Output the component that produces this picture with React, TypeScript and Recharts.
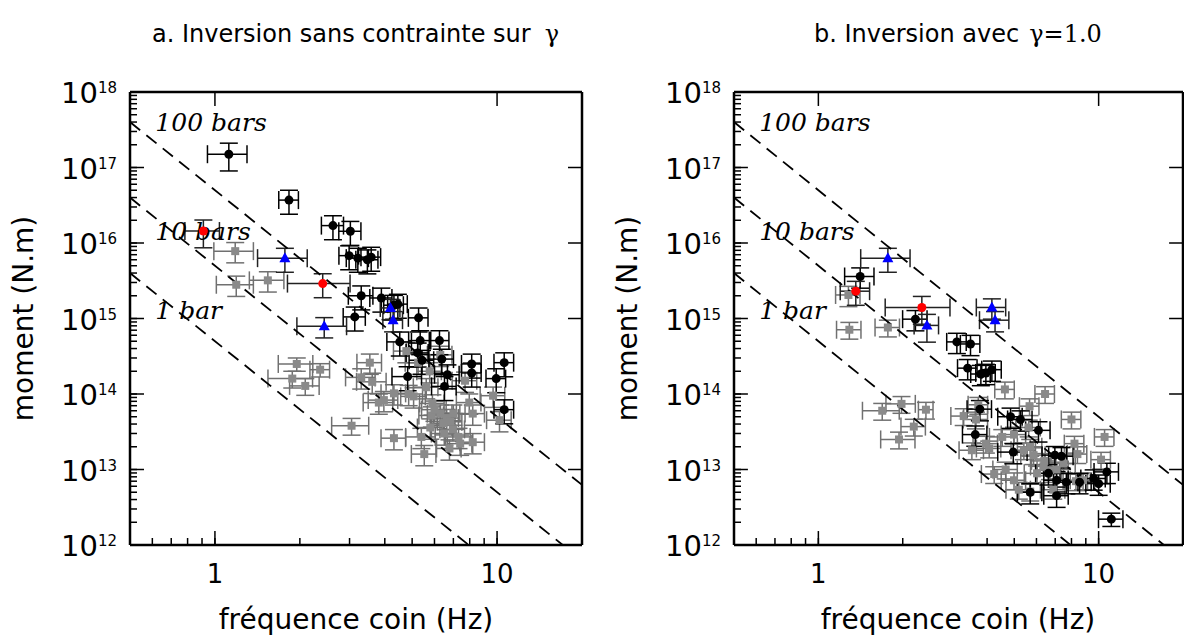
import React from 'react';
import { ScatterChart, Scatter, XAxis, YAxis, ErrorBar, ReferenceLine } from 'recharts';

// [corner frequency (Hz), moment (N.m), relative error on f, relative error on moment]
type Row = [number, number, number, number];

// ---------- Panel a : inversion sans contrainte sur gamma ----------
const aBlack: Row[] = [
  [1.12, 1.5e17, 0.16, 0.4], [1.83, 3.7e16, 0.08, 0.35], [2.62, 1.7e16, 0.09, 0.35],
  [3.02, 1.43e16, 0.09, 0.35], [2.99, 6.8e15, 0.08, 0.35], [3.21, 6.3e15, 0.09, 0.35],
  [3.47, 6.0e15, 0.09, 0.35], [3.58, 6.5e15, 0.08, 0.35], [3.3, 2.0e15, 0.1, 0.35],
  [3.89, 1.87e15, 0.09, 0.35], [4.31, 1.5e15, 0.08, 0.35], [4.45, 1.55e15, 0.08, 0.35],
  [3.13, 1.05e15, 0.09, 0.35], [5.27, 1.02e15, 0.08, 0.35], [4.52, 4.9e14, 0.1, 0.35],
  [5.34, 5.1e14, 0.09, 0.35], [6.25, 5.1e14, 0.08, 0.35], [5.23, 3.5e14, 0.09, 0.35],
  [6.37, 2.9e14, 0.1, 0.35], [5.42, 2.8e14, 0.1, 0.35], [8.13, 2.5e14, 0.08, 0.35],
  [10.6, 2.6e14, 0.08, 0.35], [8.13, 1.9e14, 0.08, 0.35], [6.67, 1.8e14, 0.1, 0.35],
  [4.82, 1.7e14, 0.12, 0.35], [9.93, 1.6e14, 0.08, 0.35], [6.51, 1.26e14, 0.1, 0.35],
  [10.6, 6.2e13, 0.08, 0.35],
];
const aRed: Row[] = [[0.91, 1.44e16, 0.14, 0.4], [2.41, 2.9e15, 0.25, 0.35]];
const aBlue: Row[] = [
  [1.77, 6.3e15, 0.2, 0.35], [2.44, 7.9e14, 0.2, 0.3], [4.19, 1.38e15, 0.08, 0.3], [4.28, 9.5e14, 0.08, 0.3],
];
const aGray: Row[] = [
  [1.18, 7.8e15, 0.16, 0.3], [1.19, 2.8e15, 0.15, 0.3], [1.54, 3.2e15, 0.14, 0.3],
  [1.95, 2.5e14, 0.14, 0.2], [2.36, 2.1e14, 0.08, 0.2], [1.88, 1.6e14, 0.18, 0.25],
  [2.09, 1.28e14, 0.12, 0.25], [3.05, 3.8e13, 0.15, 0.25], [4.77, 3.7e14, 0.1, 0.3],
  [6.29, 3.3e14, 0.1, 0.3], [5.25, 2.6e14, 0.1, 0.3], [3.54, 2.6e14, 0.1, 0.3],
  [5.77, 2.0e14, 0.1, 0.3], [3.3, 1.66e14, 0.12, 0.3], [3.61, 1.45e14, 0.12, 0.3],
  [7.7, 1.5e14, 0.1, 0.3], [5.61, 1.23e14, 0.1, 0.3], [4.31, 1.02e14, 0.1, 0.3],
  [4.86, 1.0e14, 0.12, 0.3], [5.06, 9.3e13, 0.1, 0.3], [3.81, 7.7e13, 0.12, 0.3],
  [3.97, 8.3e13, 0.12, 0.3], [9.68, 9.5e13, 0.1, 0.3], [7.97, 7.7e13, 0.1, 0.3],
  [8.2, 5.5e13, 0.1, 0.3], [10.2, 4.5e13, 0.1, 0.3], [5.87, 5.2e13, 0.1, 0.3],
  [6.29, 5.5e13, 0.1, 0.3], [6.63, 4.8e13, 0.1, 0.3], [7.0, 5.5e13, 0.1, 0.3],
  [6.82, 4.3e13, 0.1, 0.3], [6.45, 4.1e13, 0.1, 0.3], [4.31, 2.6e13, 0.1, 0.3],
  [5.39, 2.7e13, 0.12, 0.3], [6.97, 3.4e13, 0.1, 0.3], [6.78, 1.9e13, 0.1, 0.3],
  [5.52, 1.6e13, 0.1, 0.3], [7.4, 2.2e13, 0.1, 0.3], [8.2, 2.3e13, 0.1, 0.3],
  [6.0, 6.2e13, 0.1, 0.3], [6.5, 3.0e13, 0.1, 0.3], [5.8, 3.6e13, 0.1, 0.3],
  [7.3, 2.7e13, 0.1, 0.3], [5.9, 7.5e13, 0.1, 0.3],
];

// ---------- Panel b : inversion avec gamma = 1.0 ----------
const bBlack: Row[] = [
  [1.41, 3.6e15, 0.12, 0.3], [2.22, 9.8e14, 0.1, 0.3], [3.12, 4.9e14, 0.08, 0.3],
  [3.49, 4.6e14, 0.08, 0.3], [3.41, 2.2e14, 0.08, 0.3], [3.8, 1.84e14, 0.08, 0.3],
  [3.96, 1.9e14, 0.08, 0.3], [4.16, 2.1e14, 0.08, 0.3], [3.77, 6.3e13, 0.1, 0.3],
  [4.85, 5.0e13, 0.1, 0.3], [5.26, 4.6e13, 0.1, 0.3], [3.63, 2.9e13, 0.1, 0.3],
  [6.1, 3.3e13, 0.1, 0.3], [4.96, 1.7e13, 0.12, 0.3], [6.98, 1.55e13, 0.1, 0.3],
  [7.37, 1.5e13, 0.1, 0.3], [10.7, 9.3e12, 0.1, 0.3], [9.6, 7.6e12, 0.1, 0.3],
  [10.0, 6.5e12, 0.1, 0.3], [6.62, 8.9e12, 0.1, 0.3], [7.08, 7.2e12, 0.1, 0.3],
  [7.67, 6.8e12, 0.1, 0.3], [8.55, 6.8e12, 0.1, 0.3], [5.7, 5.0e12, 0.1, 0.3],
  [7.08, 4.5e12, 0.1, 0.3], [11.1, 2.2e12, 0.1, 0.2],
];
const bRed: Row[] = [[1.36, 2.3e15, 0.12, 0.35], [2.34, 1.4e15, 0.26, 0.4]];
const bBlue: Row[] = [
  [1.77, 6.3e15, 0.2, 0.35], [2.44, 8.1e14, 0.1, 0.4], [4.16, 1.4e15, 0.12, 0.3], [4.27, 9.5e14, 0.12, 0.3],
];
const bGray: Row[] = [
  [1.28, 2.05e15, 0.1, 0.3], [1.29, 7.1e14, 0.1, 0.25], [1.77, 7.6e14, 0.1, 0.25],
  [1.69, 6.0e13, 0.15, 0.25], [1.98, 7.4e13, 0.12, 0.25], [2.42, 6.2e13, 0.06, 0.25],
  [2.19, 3.7e13, 0.1, 0.25], [1.94, 2.5e13, 0.14, 0.25], [4.63, 1.15e14, 0.08, 0.25],
  [6.44, 1.0e14, 0.08, 0.25], [3.72, 7.2e13, 0.08, 0.25], [3.3, 5.1e13, 0.1, 0.25],
  [3.65, 4.6e13, 0.1, 0.25], [5.67, 6.9e13, 0.08, 0.25], [8.0, 4.6e13, 0.08, 0.25],
  [5.63, 3.6e13, 0.1, 0.25], [4.53, 2.7e13, 0.1, 0.25], [4.99, 2.9e13, 0.1, 0.25],
  [10.5, 2.7e13, 0.08, 0.25], [3.96, 2.2e13, 0.1, 0.25], [4.07, 1.9e13, 0.1, 0.25],
  [3.53, 1.8e13, 0.1, 0.25], [8.2, 2.2e13, 0.08, 0.25], [8.4, 1.6e13, 0.08, 0.25],
  [5.86, 1.55e13, 0.1, 0.25], [5.41, 1.8e13, 0.1, 0.25], [5.7, 2.0e13, 0.1, 0.25],
  [10.2, 1.35e13, 0.08, 0.25], [7.08, 1.0e13, 0.1, 0.25], [6.7, 9.8e12, 0.1, 0.25],
  [6.35, 1.1e13, 0.1, 0.25], [6.03, 8.9e12, 0.1, 0.25], [4.66, 1.0e13, 0.1, 0.25],
  [4.24, 8.7e12, 0.1, 0.25], [4.99, 7.2e12, 0.1, 0.25], [5.19, 5.4e12, 0.1, 0.25],
  [6.89, 5.4e12, 0.1, 0.25], [5.7, 5.1e12, 0.1, 0.25], [8.3, 7.0e12, 0.1, 0.25],
  [8.8, 7.2e12, 0.1, 0.25], [6.4, 1.3e13, 0.1, 0.25], [7.5, 1.2e13, 0.1, 0.25],
];

// ---------- constant stress-drop lines (endpoints, f in Hz, moment in N.m) ----------
const stressLabels = ['100 bars', '10 bars', '1 bar'];
const stressLine100: [number, number][] = [[0.5, 4e17], [20, 6.25e12]];
const stressLine10: [number, number][] = [[0.5, 4e16], [20, 6.25e11]];
const stressLine1: [number, number][] = [[0.5, 4e15], [20, 6.25e10]];
const stressLabelF = [0.615, 0.615, 0.615];
const stressLabelM = [3.07e17, 1.1e16, 1.0e15];

// ---------- axes ----------
const xDomain: [number, number] = [0.5, 20];
const yDomain: [number, number] = [1e12, 1e18];
const xMajorTicks = [1, 10];
const xMinorTicks = [0.6, 0.7, 0.8, 0.9, 2, 3, 4, 5, 6, 7, 8, 9];
const yMajorTicks = [1e12, 1e13, 1e14, 1e15, 1e16, 1e17, 1e18];
const yMinorMultipliers = [2, 3, 4, 5, 6, 7, 8, 9];
const yMinorDecades = [12, 13, 14, 15, 16, 17];
const yMinorTicks = yMinorDecades.flatMap((d) => yMinorMultipliers.map((m) => m * Math.pow(10, d)));
const xTicks = [...xMinorTicks, ...xMajorTicks].sort((a, b) => a - b);
const yTicks = [...yMinorTicks, ...yMajorTicks].sort((a, b) => a - b);

const isMajor = (v: number) => Math.abs(Math.log10(v) - Math.round(Math.log10(v))) < 1e-6;

const FONT = '"DejaVu Sans", sans-serif';
const SERIF = '"DejaVu Serif", serif';
const TW = 1.5;
const MINOR_LEN = 7;
// major ticks are twice as long: expressed as multiplicative steps on the log axes (~14 px)
const MAJOR_STEP_X = 1.121;
const MAJOR_STEP_Y = 1.531;

const toPoints = (rows: Row[]) => rows.map(([x, y, ef, em]) => ({ x, y, ex: x * ef, ey: y * em }));
const toLine = (pts: [number, number][]) => pts.map(([x, y]) => ({ x, y }));

const BottomLabel = (p: any) => {
  const v = p.payload.value;
  if (!isMajor(v)) return <g />;
  return (
    <text x={p.x} y={p.y + 38} textAnchor="middle" fontFamily={FONT} fontSize={26} fill="#000">
      {String(v)}
    </text>
  );
};
const LeftLabel = (p: any) => {
  const v = p.payload.value;
  if (!isMajor(v)) return <g />;
  return (
    <text x={p.x - 13} y={p.y + 11} textAnchor="end" fontFamily={FONT} fontSize={29} fill="#000">
      10
      <tspan fontSize={15} dy={-10}>
        {String(Math.round(Math.log10(v)))}
      </tspan>
    </text>
  );
};

const BlackDot = (p: any) => <circle cx={p.cx} cy={p.cy} r={4.5} fill="#000" />;
const RedDot = (p: any) => <circle cx={p.cx} cy={p.cy} r={4.5} fill="#ff0000" />;
const GraySquare = (p: any) => <rect x={p.cx - 4} y={p.cy - 4} width={8} height={8} fill="#8a8a8a" />;
const BlueTriangle = (p: any) => (
  <polygon points={`${p.cx},${p.cy - 6} ${p.cx - 5.5},${p.cy + 4} ${p.cx + 5.5},${p.cy + 4}`} fill="#0000ff" />
);
const NoShape = () => <g />;
const LabelShape = (p: any) => (
  <text x={p.cx} y={p.cy} fontFamily={SERIF} fontStyle="italic" fontSize={25} fill="#000">
    {p.payload.t}
  </text>
);

const axisLine = { stroke: '#000', strokeWidth: 2.5 };
const tickLine = { stroke: '#000', strokeWidth: TW };

function Panel(props: { black: Row[]; gray: Row[]; red: Row[]; blue: Row[]; yAxisWidth: number; rightMargin: number }) {
  const { black, gray, red, blue, yAxisWidth, rightMargin } = props;
  const labelData = stressLabels.map((t, i) => ({ x: stressLabelF[i], y: stressLabelM[i], t }));
  const err = (color: string) => [
    <ErrorBar key="ex" dataKey="ex" direction="x" width={9} stroke={color} strokeWidth={1.5} />,
    <ErrorBar key="ey" dataKey="ey" direction="y" width={9} stroke={color} strokeWidth={1.5} />,
  ];
  const common = {
    xAxisId: 'b',
    yAxisId: 'l',
    isAnimationActive: false,
    legendType: 'none' as const,
  };
  const axisCommon = {
    type: 'number' as const,
    scale: 'log' as const,
    allowDataOverflow: true,
    interval: 0,
    tickSize: -MINOR_LEN,
    tickMargin: MINOR_LEN,
    tickLine,
    axisLine,
  };
  const refCommon = { xAxisId: 'b', yAxisId: 'l', stroke: '#000', strokeWidth: TW, ifOverflow: 'visible' as const };
  const majorSegments: { x: number; y: number }[][] = [
    ...xMajorTicks.map((v) => [{ x: v, y: yDomain[0] }, { x: v, y: yDomain[0] * MAJOR_STEP_Y }]),
    ...xMajorTicks.map((v) => [{ x: v, y: yDomain[1] }, { x: v, y: yDomain[1] / MAJOR_STEP_Y }]),
    ...yMajorTicks.map((v) => [{ x: xDomain[0], y: v }, { x: xDomain[0] * MAJOR_STEP_X, y: v }]),
    ...yMajorTicks.map((v) => [{ x: xDomain[1], y: v }, { x: xDomain[1] / MAJOR_STEP_X, y: v }]),
  ];
  return (
    <ScatterChart width={600} height={636} margin={{ top: 91, right: rightMargin - 1, bottom: 31, left: 0 }}>
      <XAxis xAxisId="b" dataKey="x" domain={xDomain} ticks={xTicks} tick={BottomLabel} height={60} {...axisCommon} />
      <XAxis xAxisId="t" orientation="top" dataKey="x" domain={xDomain} ticks={xTicks} tick={false} height={1} {...axisCommon} />
      <YAxis yAxisId="l" dataKey="y" domain={yDomain} ticks={yTicks} tick={LeftLabel} width={yAxisWidth} {...axisCommon} />
      <YAxis yAxisId="r" orientation="right" dataKey="y" domain={yDomain} ticks={yTicks} tick={false} width={1} {...axisCommon} />
      {majorSegments.map((seg, i) => (
        <ReferenceLine key={'maj' + i} {...refCommon} segment={seg} />
      ))}
      {/* keeps the top / right frame axes bound to a (invisible) series */}
      <Scatter xAxisId="t" yAxisId="r" isAnimationActive={false} legendType="none" data={labelData} shape={NoShape} />
      <Scatter {...common} name="labels" data={labelData} shape={LabelShape} />
      {[stressLine100, stressLine10, stressLine1].map((l, i) => (
        <Scatter
          {...common}
          key={'line' + i}
          name={stressLabels[i]}
          data={toLine(l)}
          shape={NoShape}
          line={{ stroke: '#000', strokeWidth: 1.8, strokeDasharray: '13 8' }}
        />
      ))}
      <Scatter {...common} name="gray" data={toPoints(gray)} shape={GraySquare}>
        {err('#707070')}
      </Scatter>
      <Scatter {...common} name="black" data={toPoints(black)} shape={BlackDot}>
        {err('#000')}
      </Scatter>
      <Scatter {...common} name="red" data={toPoints(red)} shape={RedDot}>
        {err('#222')}
      </Scatter>
      <Scatter {...common} name="blue" data={toPoints(blue)} shape={BlueTriangle}>
        {err('#222')}
      </Scatter>
    </ScatterChart>
  );
}

export default function App() {
  return (
    <div style={{ position: 'fixed', left: 0, top: 0, width: 1184, height: 636, overflow: 'hidden', background: '#fff' }}>
      <div style={{ position: 'absolute', left: 0, top: 0 }}>
        <Panel black={aBlack} gray={aGray} red={aRed} blue={aBlue} yAxisWidth={130} rightMargin={18} />
      </div>
      <div style={{ position: 'absolute', left: 600, top: 0 }}>
        <Panel black={bBlack} gray={bGray} red={bRed} blue={bBlue} yAxisWidth={134} rightMargin={17} />
      </div>
      <svg width={1184} height={636} style={{ position: 'absolute', left: 0, top: 0, pointerEvents: 'none' }}>
        <text x={152} y={42} fontFamily={FONT} fontSize={24} fill="#000">
          a. Inversion sans contrainte sur
          <tspan dx={14} fontFamily={SERIF}>γ</tspan>
        </text>
        <text x={814} y={42} fontFamily={FONT} fontSize={24} fill="#000">
          b. Inversion avec
          <tspan dx={10} fontFamily={SERIF}>γ=1.0</tspan>
        </text>
        <text x={356} y={629} textAnchor="middle" fontFamily={FONT} fontSize={28} fill="#000">
          fréquence coin (Hz)
        </text>
        <text x={958} y={629} textAnchor="middle" fontFamily={FONT} fontSize={28} fill="#000">
          fréquence coin (Hz)
        </text>
        <text transform="translate(33,318.5) rotate(-90)" textAnchor="middle" fontFamily={FONT} fontSize={28} fill="#000">
          moment (N.m)
        </text>
        <text transform="translate(637,318.5) rotate(-90)" textAnchor="middle" fontFamily={FONT} fontSize={28} fill="#000">
          moment (N.m)
        </text>
      </svg>
    </div>
  );
}
